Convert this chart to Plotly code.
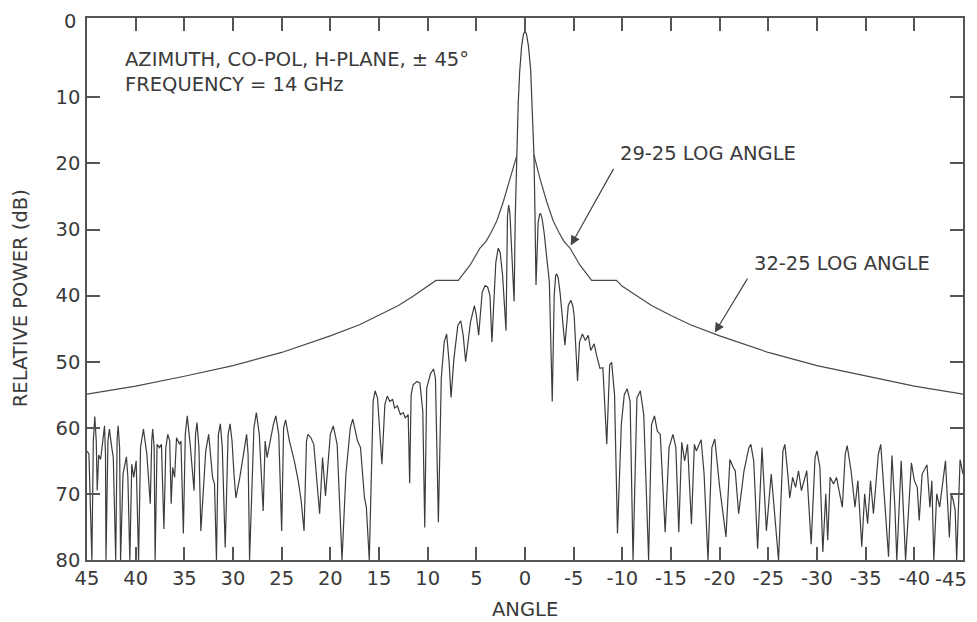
import plotly.graph_objects as go

far_left = [
    [45.0, 63.5], [44.8, 64.0], [44.5, 80], [44.35, 62], [44.2, 58.3], [44.05, 62], [43.95, 69.5],
    [43.8, 64.1], [43.6, 64.8], [43.35, 61], [43.2, 59.7], [43.1, 64], [43.05, 80], [42.85, 62],
    [42.7, 60.2], [42.5, 62.5], [42.3, 64.5], [42.05, 80], [41.9, 61.5], [41.8, 59.7], [41.65, 63],
    [41.55, 80], [41.3, 67], [41.1, 65.5], [40.95, 64.4], [40.8, 67.5], [40.6, 80], [40.4, 65.5],
    [40.2, 67.5], [39.95, 65], [39.7, 80], [39.5, 63], [39.2, 60.2], [38.85, 64], [38.5, 71.5],
    [38.35, 62], [38.25, 60.2], [38.1, 63], [38.0, 80], [37.8, 62.5], [37.55, 63], [37.35, 62.5],
    [37.1, 75.3], [36.9, 63], [36.7, 61], [36.5, 62], [36.35, 71.5], [36.2, 66], [36.0, 67.5],
    [35.8, 61.5], [35.5, 62.5], [35.35, 62], [35.1, 76], [34.9, 61], [34.7, 58.2], [34.4, 62.5],
    [34.0, 69.5], [33.85, 61], [33.7, 59.2], [33.5, 63], [33.3, 75.6], [32.8, 63.5], [32.5, 61],
    [32.1, 67.5], [31.9, 68.5], [31.7, 80], [31.5, 61], [31.3, 59.4], [31.1, 63], [30.8, 78.1],
    [30.5, 61], [30.3, 59.4], [30.1, 62], [29.9, 67], [29.7, 70.6], [29.3, 67.5], [28.9, 64],
    [28.6, 61], [28.45, 64], [28.3, 80], [27.85, 60], [27.6, 57.7], [27.3, 61], [26.9, 72.6],
    [26.7, 62], [26.5, 64.5], [25.85, 59.5], [25.6, 58.2], [25.3, 61], [25.0, 75.6], [24.8, 60],
    [24.6, 58.8], [24.2, 62], [23.7, 65], [23.3, 68], [23.0, 71], [22.7, 75.6], [22.45, 62],
    [22.3, 61], [22.0, 61.5], [21.7, 62.5], [21.1, 73], [20.8, 64.5], [20.5, 70.3], [20.0, 61],
    [19.7, 59.7], [19.3, 62.5], [18.8, 80], [18.4, 67], [17.95, 60], [17.7, 58.7], [17.2, 62],
    [16.9, 63], [16.5, 70.5], [16.3, 72], [16.0, 80],
]
near_left = [
    [15.6, 56], [15.4, 54.4], [15.15, 55.5], [15.0, 59], [14.7, 65.5], [14.4, 56.5], [14.15, 55.2],
    [13.9, 56], [13.6, 55.7], [13.4, 57], [13.1, 56.7], [12.8, 58], [12.5, 57.7], [12.3, 58.5],
    [12.0, 58], [11.85, 68.4], [11.7, 55], [11.5, 53.5], [11.1, 53], [10.8, 53.2], [10.5, 57.5],
    [10.3, 75.1], [10.1, 54], [9.7, 51.8], [9.4, 51.1], [9.2, 52.5], [8.9, 74.3], [8.6, 52.5],
    [8.3, 47], [8.05, 45.8], [7.8, 50], [7.6, 55.4], [7.3, 49.5], [6.9, 44.5], [6.6, 43.8],
    [6.35, 46], [6.1, 50], [5.6, 44], [5.2, 41.5], [5.0, 43], [4.76, 46], [4.4, 39.5],
    [4.1, 38.5], [3.84, 38.7], [3.6, 40], [3.4, 47], [3.0, 35], [2.75, 32.8], [2.55, 33.5],
    [2.3, 37], [1.95, 45.3], [1.8, 28], [1.68, 26.3], [1.55, 27.5], [1.4, 32], [1.12, 40.9],
]
main_lobe = [
    [1.0, 28], [0.85, 18.5], [0.7, 11], [0.55, 6.2], [0.35, 2.3], [0.15, 0.4], [0.0, 0.0],
    [-0.15, 0.4], [-0.35, 2.2], [-0.58, 5.8], [-0.79, 13.2], [-0.92, 18.7], [-1.02, 27],
    [-1.13, 38.4],
]
near_right = [
    [-1.35, 29], [-1.5, 27.7], [-1.61, 27.6], [-1.75, 28.3], [-1.95, 30.3], [-2.23, 34.4],
    [-2.5, 37.9], [-2.8, 56], [-3.0, 40], [-3.15, 37], [-3.25, 36.7], [-3.4, 37.2], [-3.6, 39.5],
    [-4.1, 47.5], [-4.45, 41.5], [-4.7, 40.7], [-4.9, 41.5], [-5.05, 43], [-5.4, 52.9],
    [-5.6, 47], [-5.9, 45.8], [-6.2, 46.8], [-6.5, 46], [-6.75, 48.3], [-7.1, 47.3], [-7.4, 49.3],
    [-7.7, 51], [-8.0, 50.9], [-8.4, 62.5], [-8.7, 50.5], [-8.9, 50.1], [-9.2, 55], [-9.5, 76],
    [-9.9, 59.4], [-10.2, 55], [-10.5, 54.1], [-10.8, 56], [-11.1, 80], [-11.5, 55.5],
    [-11.85, 54.4], [-12.2, 58], [-12.7, 80], [-13.0, 59.5], [-13.3, 58.2], [-13.6, 60.5],
    [-13.9, 61], [-14.4, 75.8], [-14.8, 63], [-15.2, 61], [-15.5, 63], [-15.8, 75.8],
]
far_right = [
    [-16.1, 62.2], [-16.4, 65], [-16.7, 62.5], [-17.1, 74.6], [-17.4, 62.5], [-17.6, 63.5],
    [-18.1, 61.8], [-18.4, 67], [-18.8, 80], [-19.2, 63], [-19.5, 61.7], [-20.0, 69],
    [-20.65, 76.5], [-21.05, 64.8], [-21.4, 66], [-21.6, 66.5], [-21.95, 73], [-22.5, 66.5],
    [-23.0, 63], [-23.2, 62.5], [-23.5, 65], [-23.9, 78.3], [-24.35, 63], [-24.8, 75.6],
    [-25.3, 67], [-25.7, 74], [-26.05, 80], [-26.5, 63.5], [-26.7, 62.5], [-27.0, 67],
    [-27.2, 70.6], [-27.5, 67.5], [-27.8, 69], [-28.1, 66.5], [-28.4, 69.5], [-28.95, 66.5],
    [-29.4, 77.6], [-29.8, 64.5], [-30.0, 63.5], [-30.3, 66], [-30.6, 78.8], [-30.9, 70],
    [-31.1, 77], [-31.35, 67.5], [-31.7, 68.5], [-32.0, 67.5], [-32.3, 69.5], [-32.6, 72],
    [-32.9, 64], [-33.1, 62.7], [-33.5, 66.5], [-33.9, 72], [-34.2, 68], [-34.6, 78],
    [-34.9, 70], [-35.2, 74.5], [-35.5, 68], [-35.8, 73], [-36.3, 64], [-36.55, 62.5],
    [-36.9, 70], [-37.35, 79.5], [-37.7, 64.2], [-38.0, 72], [-38.2, 80], [-38.65, 65],
    [-39.1, 80], [-39.4, 72], [-39.7, 65.3], [-40.0, 68], [-40.3, 69], [-40.5, 74], [-40.8, 67],
    [-41.3, 65.6], [-41.6, 72], [-41.8, 68], [-42.0, 80], [-42.3, 70], [-42.6, 72], [-43.2, 65],
    [-43.6, 76.6], [-43.8, 70], [-44.0, 71], [-44.2, 72.5], [-44.35, 80], [-44.7, 64.8],
    [-45.0, 67],
]

# Specification envelope branches (29-25 log angle near in, 32-25 log angle beyond)
envelope_left_angle = [45, 40, 35, 30, 25, 20, 17, 15, 13, 11.5, 10, 9.15, 6.85, 5.65, 4.62, 4.0,
                       3.5, 2.9, 2.23, 1.54, 1.2, 0.88]
envelope_left_db = [54.9, 53.7, 52.2, 50.6, 48.6, 46.1, 44.4, 43.0, 41.5, 40.1, 38.6, 37.7, 37.7,
                    35.4, 32.8, 31.8, 30.5, 28.7, 25.8, 22.3, 20.6, 19.0]
envelope_right_angle = [-0.92, -1.2, -1.54, -2.23, -2.9, -3.5, -4.0, -4.62, -5.65, -6.85, -9.4,
                        -10, -11.5, -13, -15, -17, -20, -25, -30, -35, -40, -45]
envelope_right_db = [18.7, 20.4, 22.3, 25.8, 28.7, 30.5, 31.8, 32.8, 35.4, 37.7, 37.7, 38.6, 40.1,
                     41.5, 43.0, 44.4, 46.1, 48.6, 50.6, 52.2, 53.7, 54.9]

x_tick_vals = [45, 40, 35, 30, 25, 20, 15, 10, 5, 0, -5, -10, -15, -20, -25, -30, -35, -40, -45]
x_tick_text = ["45", "40", "35", "30", "25", "20", "15", "10", "5", "0", "-5", "-10", "-15",
               "-20", "-25", "-30", "-35", "-40", "-45"]
y_tick_vals = [0, 10, 20, 30, 40, 50, 60, 70, 80]
y_tick_text = ["0", "10", "20", "30", "40", "50", "60", "70", "80"]

INK = "#3a3a3a"
FONT = "DejaVu Sans"
FS = 19.5

pattern = far_left + near_left + main_lobe + near_right + far_right
pattern_angle = [p[0] for p in pattern]
pattern_db = [p[1] for p in pattern]

fig = go.Figure()
for ex, ey in ((envelope_left_angle, envelope_left_db), (envelope_right_angle, envelope_right_db)):
    fig.add_trace(go.Scatter(x=ex, y=ey, mode="lines",
                             line=dict(color="#4a4a4a", width=1.2), hoverinfo="skip"))
fig.add_trace(go.Scatter(x=pattern_angle, y=pattern_db, mode="lines",
                         line=dict(color="#3c3c3c", width=1.2), hoverinfo="skip"))

axis_common = dict(showline=True, linecolor="#555555", linewidth=1.5, mirror="ticks",
                   ticks="inside", ticklen=13, tickwidth=1.5, tickcolor="#555555",
                   showgrid=False, zeroline=False, automargin=False,
                   ticklabeloverflow="allow",
                   tickfont=dict(family=FONT, size=FS, color=INK))

# Edge labels ("-45" at the right end, "0" at the top) are drawn as annotations below so they
# stay inside the page, as in the reference.
x_shown_text = x_tick_text[:-1] + [""]

fig.update_xaxes(range=[45, -45], tickmode="array", tickvals=x_tick_vals, ticktext=x_shown_text,
                 ticklabelstandoff=0, **axis_common)
fig.update_yaxes(range=[80, -2], tickmode="array", tickvals=y_tick_vals[1:],
                 ticktext=y_tick_text[1:], ticklabelstandoff=1, **axis_common)

txt = dict(family=FONT, size=FS, color=INK)
annotations = [
    dict(text=y_tick_text[0], xref="paper", yref="paper", x=-0.0103, y=0.993, xanchor="right",
         yanchor="middle", showarrow=False, font=txt),
    dict(text=x_tick_text[-1], xref="paper", yref="paper", x=1.0068, y=-0.036,
         xanchor="right", yanchor="middle", showarrow=False, font=txt),
    dict(text="ANGLE", xref="paper", yref="paper", x=0.5, y=-0.092,
         xanchor="center", yanchor="middle", showarrow=False, font=txt),
    dict(text="RELATIVE POWER (dB)", xref="paper", yref="paper", x=-0.0765, y=0.483,
         xanchor="center", yanchor="middle", textangle=-90, showarrow=False, font=txt),
    dict(text="AZIMUTH, CO-POL, H-PLANE, ± 45°<br>FREQUENCY = 14 GHz", x=41.3, y=6.16,
         xanchor="left", yanchor="middle", align="left", showarrow=False, font=txt),
    dict(text="29-25 LOG ANGLE", x=-9.56, y=18.5, xanchor="left",
         yanchor="middle", showarrow=False, font=txt),
    dict(text="32-25 LOG ANGLE", x=-23.3, y=35.2, xanchor="left",
         yanchor="middle", showarrow=False, font=txt),
    dict(text="", x=-4.7, y=32.4, ax=-9.18, ay=20.6, axref="x", ayref="y", showarrow=True,
         arrowhead=2, arrowsize=1.6, arrowwidth=1.2, arrowcolor="#444444", standoff=0),
    dict(text="", x=-19.5, y=45.6, ax=-22.95, ay=37.2, axref="x", ayref="y", showarrow=True,
         arrowhead=2, arrowsize=1.6, arrowwidth=1.2, arrowcolor="#444444", standoff=0),
]

# The page body adds an 8 px margin, so the figure is narrower and the margins shifted.
fig.update_layout(width=961, height=614, margin=dict(l=79, r=6, t=10, b=62),
                  paper_bgcolor="white", plot_bgcolor="white", showlegend=False,
                  annotations=annotations, font=dict(family=FONT, color=INK))

fig.write_html("out.html")
